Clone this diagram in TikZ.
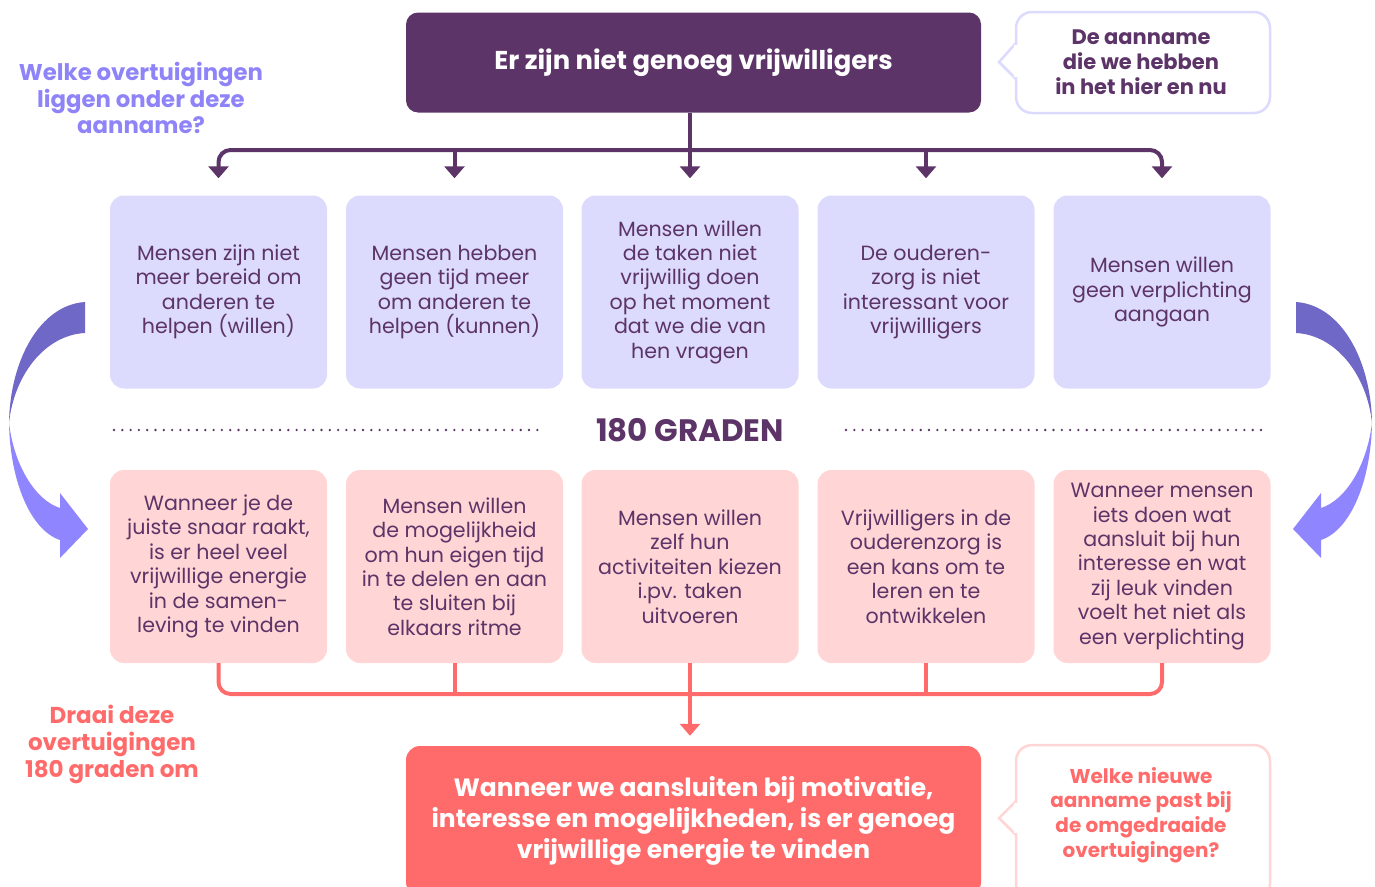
\documentclass[tikz,border=0pt]{standalone}
\usepackage{fontspec}
\setmainfont{Poppins}
\usetikzlibrary{arrows.meta}
\definecolor{plum}{HTML}{5C3468}
\definecolor{lav}{HTML}{DCDAFD}
\definecolor{pinkbox}{HTML}{FFD5D5}
\definecolor{coral}{HTML}{FF6B6B}
\definecolor{peri}{HTML}{8E84F8}
\definecolor{arrdark}{HTML}{6F68C7}
\definecolor{arrlight}{HTML}{8F86FF}
\tikzset{
  ubox/.style={fill=lav, rounded corners=14pt, minimum width=217pt, minimum height=193pt, inner sep=0pt,
    text=plum, align=center, font=\fontsize{20.6}{24.4}\selectfont},
  lbox/.style={fill=pinkbox, rounded corners=14pt, minimum width=217pt, minimum height=193pt, inner sep=0pt,
    text=plum, align=center, font=\fontsize{20.6}{24.4}\selectfont},
  pline/.style={draw=plum, line width=4pt},
  parrow/.style={pline, -{Triangle[width=20pt,length=12pt]}, shorten >=17pt},
  cline/.style={draw=coral, line width=4pt},
  carrow/.style={cline, -{Triangle[width=20pt,length=12pt]}, shorten >=10pt},
  callP/.style={draw=lav, line width=2.5pt, fill=white, rounded corners=16pt},
  callC/.style={draw=pinkbox, line width=2.5pt, fill=white, rounded corners=16pt},
  dotline/.style={draw=plum, line width=2.6pt, line cap=round, dash pattern=on 0pt off 8.3pt},
}
\begin{document}
\begin{tikzpicture}[x=1pt,y=-1pt]
\useasboundingbox (0,0) rectangle (1375,886);
\clip (0,0) rectangle (1375,886);

% top box
\node[fill=plum, rounded corners=12pt, minimum width=575pt, minimum height=100pt, text=white,
  font=\fontsize{25.8}{30}\selectfont\bfseries] (top) at (693.5,62.5) {Er zijn niet genoeg vrijwilligers};

% top callout
\draw[callP] (1016,12) rectangle (1270,113);
\filldraw[draw=lav, line width=2.5pt, fill=white, line join=miter] (1016,43) -- (999,62) -- (1016,79);
\fill[white] (1014,45) rectangle (1018.5,77);
\node[text=plum, align=center, font=\fontsize{21}{25}\selectfont\bfseries] (callt) at (1141,62) {De aanname\\die we hebben\\in het hier en nu};

% left question
\node[text=peri, align=center, font=\fontsize{22.8}{26.5}\selectfont\bfseries] (q1) at (141,98) {Welke overtuigingen\\liggen onder deze\\aanname?};

% upper boxes
\node[ubox] (u1) at (218.5,292) {Mensen zijn niet\\meer bereid om\\anderen te\\helpen (willen)};
\node[ubox] (u2) at (454.5,292) {Mensen hebben\\geen tijd meer\\om anderen te\\helpen (kunnen)};
\node[ubox] (u3) at (690,292) {Mensen willen\\de taken niet\\vrijwillig doen\\op het moment\\dat we die van\\hen vragen};
\node[ubox] (u4) at (926,292) {De ouderen-\\zorg is niet\\interessant voor\\vrijwilligers};
\node[ubox] (u5) at (1162,292) {Mensen willen\\geen verplichting\\aangaan};

% top connectors
\coordinate (hub) at (690,150);
\draw[pline] (top.south -| hub) -- (hub);
\draw[parrow, rounded corners=12pt] (hub) -| (u1.north);
\draw[parrow] (hub) -| (u2.north);
\draw[parrow] (hub) -- (u3.north);
\draw[parrow] (hub) -| (u4.north);
\draw[parrow, rounded corners=12pt] (hub) -| (u5.north);

% middle
\node[text=plum, font=\fontsize{31}{34}\selectfont\bfseries] (grad) at (690,430) {180 GRADEN};
\coordinate (dl1) at (114,430);
\coordinate (dl2) at (538,430);
\coordinate (dr1) at (846,430);
\coordinate (dr2) at (1268,430);
\draw[dotline] (dl1) -- (dl2);
\draw[dotline] (dr1) -- (dr2);

% lower boxes
\node[lbox] (l1) at (218.5,566.5) {Wanneer je de\\juiste snaar raakt,\\is er heel veel\\vrijwillige energie\\in de samen-\\leving te vinden};
\node[lbox] (l2) at (454.5,566.5) {Mensen willen\\de mogelijkheid\\om hun eigen tijd\\in te delen en aan\\te sluiten bij\\elkaars ritme};
\node[lbox] (l3) at (690,566.5) {Mensen willen\\zelf hun\\activiteiten kiezen\\i.pv. taken\\uitvoeren};
\node[lbox] (l4) at (926,566.5) {Vrijwilligers in de\\ouderenzorg is\\een kans om te\\leren en te\\ontwikkelen};
\node[lbox] (l5) at (1162,566.5) {Wanneer mensen\\iets doen wat\\aansluit bij hun\\interesse en wat\\zij leuk vinden\\voelt het niet als\\een verplichting};

% bottom box
\node[fill=coral, rounded corners=14pt, minimum width=575pt, minimum height=150pt, text=white, align=center,
  font=\fontsize{25}{31}\selectfont\bfseries] (bot) at (693.5,821) {Wanneer we aansluiten bij motivatie,\\interesse en mogelijkheden, is er genoeg\\vrijwillige energie te vinden};

% lower connectors
\coordinate (lhub) at (690,694);
\draw[cline, rounded corners=12pt] (l1.south) |- (lhub);
\draw[cline] (l2.south) |- (lhub);
\draw[cline] (l4.south) |- (lhub);
\draw[cline, rounded corners=12pt] (l5.south) |- (lhub);
\draw[cline] (l3.south) -- (lhub);
\draw[carrow] (lhub) -- (bot.north -| lhub);

% bottom callout
\draw[callC] (1016,745) rectangle (1270,900);
\filldraw[draw=pinkbox, line width=2.5pt, fill=white, line join=miter] (1016,801) -- (999,818) -- (1016,835);
\fill[white] (1014,803) rectangle (1018.5,833);
\node[text=coral, align=center, font=\fontsize{20}{24.7}\selectfont\bfseries] (callb) at (1141,815) {Welke nieuwe\\aanname past bij\\de omgedraaide\\overtuigingen?};

% left instruction
\node[text=coral, align=center, font=\fontsize{23}{27}\selectfont\bfseries] (q2) at (112,744) {Draai deze\\overtuigingen\\180 graden om};

% curved arrows
\foreach \sx/\sc in {0/1, 1381/-1}{
\begin{scope}[xshift=\sx pt, xscale=\sc]
  \fill[arrdark] (85,302) .. controls (40,305) and (10,360) .. (9,423)
     .. controls (14,375) and (45,335) .. (85,333) -- cycle;
  \fill[arrlight] (9,423) .. controls (10,480) and (30,530) .. (60,540)
     -- (60,558) -- (88,529) -- (60,493) -- (60,508)
     .. controls (35,500) and (14,465) .. (9,423) -- cycle;
\end{scope}}
\end{tikzpicture}
\end{document}
